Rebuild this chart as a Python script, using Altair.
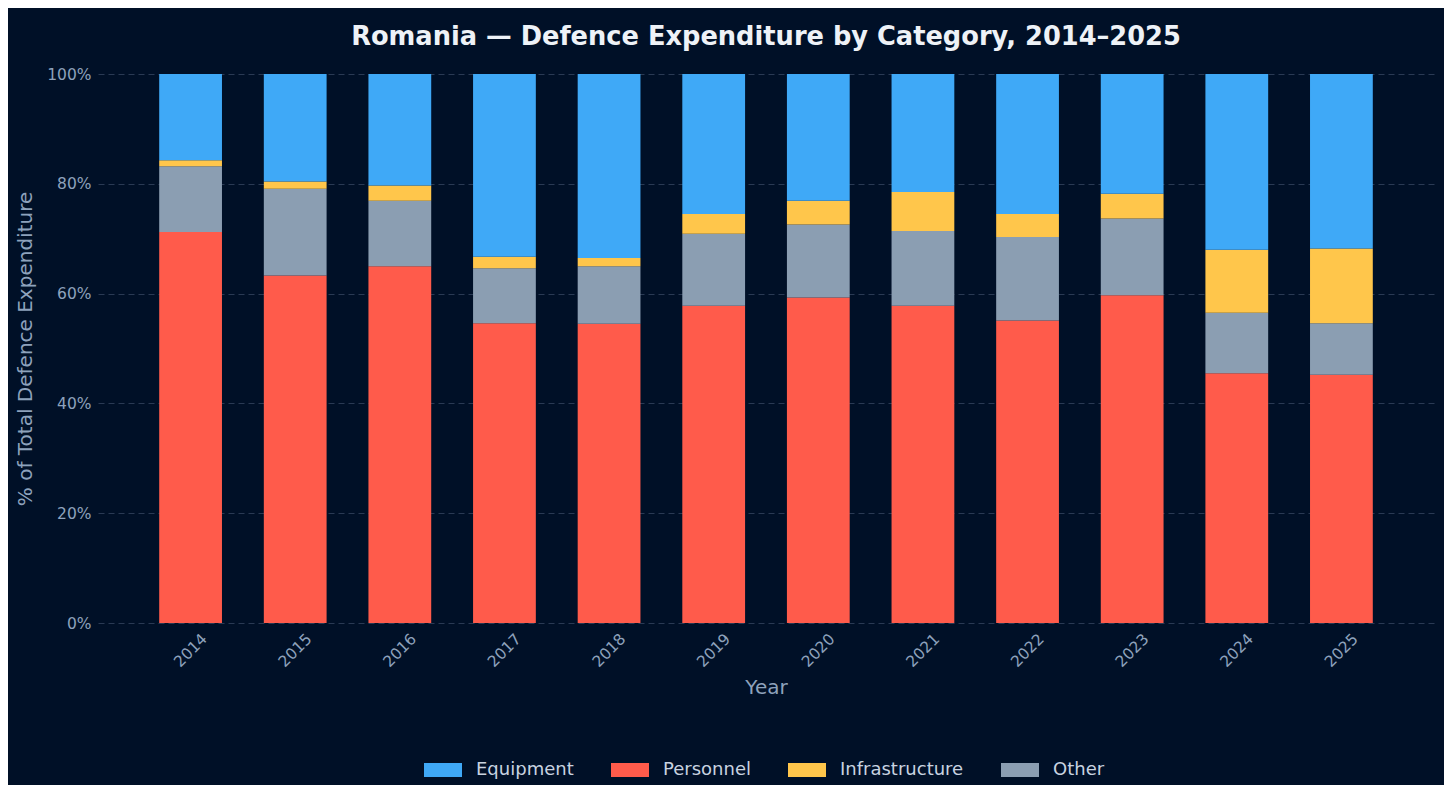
import altair as alt
import pandas as pd

years = ["2014", "2015", "2016", "2017", "2018", "2019", "2020", "2021", "2022", "2023", "2024", "2025"]
personnel = [71.2, 63.3, 65.0, 54.6, 54.5, 57.8, 59.3, 57.8, 55.1, 59.7, 45.5, 45.2]
other = [12.0, 15.8, 11.9, 10.0, 10.5, 13.1, 13.3, 13.6, 15.2, 14.0, 11.0, 9.4]
infrastructure = [1.1, 1.3, 2.8, 2.1, 1.5, 3.6, 4.3, 7.1, 4.2, 4.5, 11.5, 13.6]
equipment = [15.7, 19.6, 20.3, 33.3, 33.5, 25.5, 23.1, 21.5, 25.5, 21.8, 32.0, 31.8]

categories = ["Equipment", "Personnel", "Infrastructure", "Other"]
colors = ["#3FA9F7", "#FF5B4B", "#FFC64B", "#8B9EB2"]
stack_rank = {"Personnel": 0, "Other": 1, "Infrastructure": 2, "Equipment": 3}

rows = []
for i, y in enumerate(years):
    for cat, vals in (("Personnel", personnel), ("Other", other),
                      ("Infrastructure", infrastructure), ("Equipment", equipment)):
        rows.append({"Year": y, "Category": cat, "Share": vals[i] / 100.0,
                     "rank": stack_rank[cat]})
df = pd.DataFrame(rows)

bg = "#001027"
text_col = "#8EA2BC"

chart = alt.Chart(df).mark_bar().encode(
    x=alt.X("Year:N", sort=years,
            scale=alt.Scale(paddingInner=0.4, paddingOuter=0.585),
            axis=alt.Axis(title="Year", labelAngle=-45, labelAlign="center",
                          labelBaseline="middle", labelPadding=27, ticks=False,
                          domain=False, grid=False, titlePadding=8)),
    y=alt.Y("Share:Q", stack="zero",
            scale=alt.Scale(domain=[0, 1], nice=False),
            axis=alt.Axis(title="% of Total Defence Expenditure", format=".0%",
                          values=[0, 0.2, 0.4, 0.6, 0.8, 1.0], ticks=False,
                          domain=False, grid=True, labelPadding=7, titlePadding=11)),
    color=alt.Color("Category:N", sort=categories,
                    scale=alt.Scale(domain=categories, range=colors),
                    legend=alt.Legend(title=None, orient="none", direction="horizontal",
                                      legendX=326, legendY=677,
                                      symbolType="M-1,-0.37H1V0.37H-1Z",
                                      symbolSize=1444, symbolStrokeWidth=0,
                                      symbolOpacity=1,
                                      labelOffset=14, columnPadding=37,
                                      labelFontSize=18, labelColor="#C8D3E0",
                                      labelFont="DejaVu Sans")),
    order=alt.Order("rank:Q", sort="ascending"),
).properties(
    width=1336,
    height=549,
    title=alt.TitleParams("Romania — Defence Expenditure by Category, 2014–2025",
                          fontSize=25.7, fontWeight="bold", color="#EEF2F7",
                          font="DejaVu Sans", anchor="middle", offset=16),
    padding={"left": 90, "top": 66, "right": 10, "bottom": 162},
    autosize=alt.AutoSizeParams(type="none"),
).configure(
    background=bg,
).configure_view(
    stroke=None,
).configure_axis(
    labelFont="DejaVu Sans",
    titleFont="DejaVu Sans",
    labelFontSize=15.5,
    titleFontSize=20,
    titleFontWeight="normal",
    labelColor=text_col,
    titleColor=text_col,
    gridColor="#2A3A54",
    gridDash=[6, 4],
    gridWidth=1,
)

chart.save("out.html", embed_options={"renderer": "svg", "actions": False})
